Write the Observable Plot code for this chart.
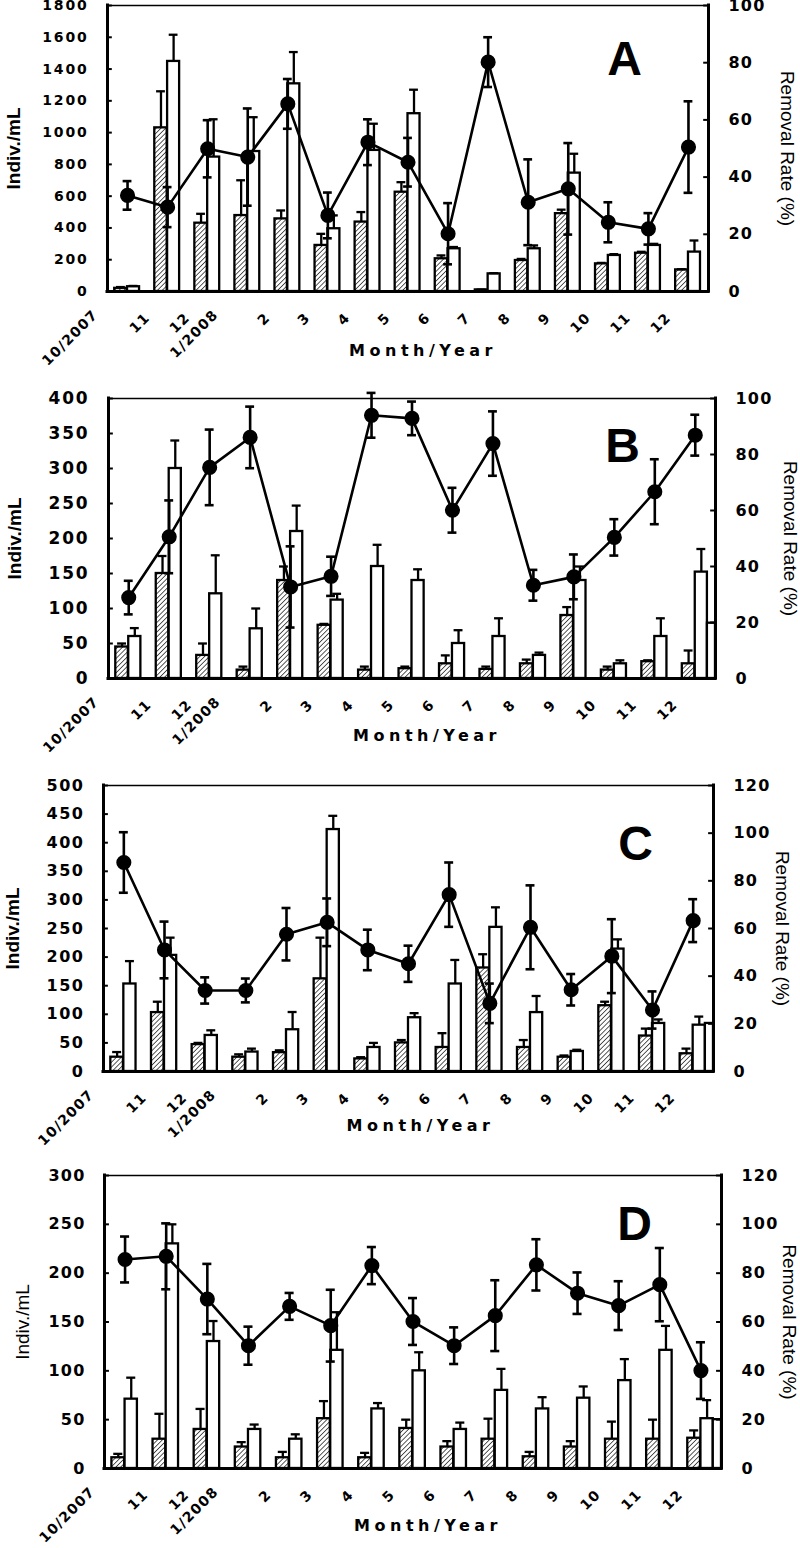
<!DOCTYPE html>
<html><head><meta charset="utf-8">
<script src="https://cdn.jsdelivr.net/npm/d3@7"></script>
<script src="https://cdn.jsdelivr.net/npm/@observablehq/plot@0.6"></script>
<style>
body{margin:0;background:#fff;}
#wrap{position:relative;width:800px;height:1548px;overflow:hidden;background:#fff;}
.panel{position:absolute;left:0;}
</style></head><body>
<svg width="0" height="0" style="position:absolute">
<defs><pattern id="hatch" patternUnits="userSpaceOnUse" width="3.4" height="3.4" patternTransform="rotate(45)">
<rect width="3.4" height="3.4" fill="white"/><line x1="0" y1="0" x2="0" y2="3.4" stroke="black" stroke-width="1.3"/></pattern></defs></svg>
<div id="wrap"></div>
<script>
const monthLabels = ["10/2007","11","12","1/2008","2","3","4","5","6","7","8","9","10","11","12"];

// Panel A
const aLeftTicks = [0,200,400,600,800,1000,1200,1400,1600,1800];
const aRightTicks = [0,20,40,60,80,100];
const aHatched = [20,1030,430,478,457,290,437,625,206,10,195,490,174,241,136];
const aHatchedErr = [28,1260,489,700,510,363,500,688,227,12,205,515,180,250,140];
const aOpen = [30,1448,846,881,1307,395,888,1119,269,111,269,745,227,290,248];
const aOpenErr = [35,1616,1084,1097,1507,479,1056,1270,280,115,290,867,235,300,321];
const aRate = [33.6,29.5,49.9,47,65.6,26.6,52.2,45.2,20.2,80.2,31.2,35.9,24.2,21.9,50.5];
const aRateErr = [5,7,10,17,8.7,8,8,8.5,10.7,8.7,15,16,7,5.5,16];

// Panel B
const bLeftTicks = [0,50,100,150,200,250,300,350,400];
const bRightTicks = [0,20,40,60,80,100];
const bHatched = [45,150,33,12,140,76,12,14,21,13,21,90,12,24,21];
const bHatchedErr = [50,175,50,17,160,78,17,17,33,17,27,102,17,26,40];
const bOpen = [60,300,121,71,210,112,160,140,50,60,33,140,21,60,152];
const bOpenErr = [72,340,176,100,247,121,191,156,69,86,37,160,26,86,185];
const bRate = [28.9,50.6,75.4,86.1,32.7,36.5,94,92.9,60.1,83.9,33.3,36.3,50.4,66.7,86.9];
const bRateErr = [6,13,13.5,11,14.5,7,8,6,8,11.5,5.5,8,6.5,11.6,7.3];
const bExtra = 79;

// Panel C
const cLeftTicks = [0,50,100,150,200,250,300,350,400,450,500];
const cRightTicks = [0,20,40,60,80,100,120];
const cHatched = [25,103,47,25,33,162,22,50,42,181,42,25,115,62,31];
const cHatchedErr = [34,122,50,30,37,234,25,55,67,205,55,28,122,75,40];
const cOpen = [153,203,63,34,73,423,42,94,153,252,103,35,214,84,81];
const cOpenErr = [193,234,72,40,104,447,50,102,195,287,132,38,231,91,96];
const cRate = [87.7,51,34,34,57.6,62.6,51,45.2,74.2,28.6,60.5,34.3,48.4,25.8,63.3];
const cRateErr = [12.7,11.9,5.5,5,11,10,8.5,7.6,13.5,8.3,17.6,6.6,15.5,7.8,9];
const cExtra = 84;

// Panel D
const dLeftTicks = [0,50,100,150,200,250,300];
const dRightTicks = [0,20,40,60,80,100,120];
const dHatched = [11,30,40,22,11,51,11,41,22,30,12,22,30,30,31];
const dHatchedErr = [15,56,61,27,17,69,16,50,28,51,17,28,48,50,39];
const dOpen = [71,230,130,40,30,121,61,100,40,80,61,72,90,121,51];
const dOpenErr = [93,250,151,45,35,160,67,119,47,102,73,84,112,146,70];
const dRate = [85.6,86.9,69.4,50.3,66.4,58.5,83.1,60.2,50.3,62.6,83.4,71.8,66.7,75.3,40.1];
const dRateErr = [9.4,13.5,14.4,7.8,5.5,14.7,7.6,9.6,7.5,14.5,10.5,8.5,10,15,11.6];
const dExtra = 50;

const leftTitle = "Indiv./mL";
const rightTitle = "Removal Rate (%)";
const xTitle = "Month/Year";

const NUM = "DejaVu Sans";
const SANS = "Liberation Sans";

function makePanel(p) {
  const n = monthLabels.length;
  const k = p.yMax / p.rMax;
  const rows = monthLabels.map((m, i) => ({
    i, eff: p.hatched[i], effErr: p.hatchedErr[i], inf: p.open[i], infErr: p.openErr[i],
    rate: p.rate[i] * k, lo: (p.rate[i] - p.rateErr[i]) * k, hi: (p.rate[i] + p.rateErr[i]) * k
  }));
  const hx1 = 0.18, hx2 = 0.49, ox1 = 0.5, ox2 = 0.8, cap = 0.11, sw = 2.3;
  const hc = (hx1 + hx2) / 2, oc = (ox1 + ox2) / 2, lc = 0.5;
  const xlab = {x: (d, i) => i + 0.08, y: 0, text: d => d, rotate: -45, textAnchor: "end", lineAnchor: "bottom", dy: 27, fontSize: 14, fontWeight: "bold", fontFamily: NUM, ariaLabel: () => "xtick"};
  const marks = [
    Plot.rect(rows, {x1: d => d.i + hx1, x2: d => d.i + hx2, y1: 0, y2: "eff", fill: "url(#hatch)", stroke: "black", strokeWidth: sw}),
    Plot.rect(rows, {x1: d => d.i + ox1, x2: d => d.i + ox2, y1: 0, y2: "inf", fill: "white", stroke: "black", strokeWidth: sw}),
    Plot.rect(p.extra != null ? [p.extra] : [], {x1: () => n - 0.2, x2: () => n, y1: 0, y2: d => d, fill: "white", stroke: "black", strokeWidth: sw}),
    Plot.ruleX(rows, {x: d => d.i + hc, y1: "eff", y2: "effErr", strokeWidth: sw}),
    Plot.ruleY(rows, {y: "effErr", x1: d => d.i + hc - cap, x2: d => d.i + hc + cap, strokeWidth: sw}),
    Plot.ruleX(rows, {x: d => d.i + oc, y1: "inf", y2: "infErr", strokeWidth: sw}),
    Plot.ruleY(rows, {y: "infErr", x1: d => d.i + oc - cap, x2: d => d.i + oc + cap, strokeWidth: sw}),
    Plot.line(rows, {x: d => d.i + lc, y: "rate", strokeWidth: 2.6}),
    Plot.ruleX(rows, {x: d => d.i + lc, y1: "lo", y2: "hi", strokeWidth: 2.6}),
    Plot.ruleY(rows, {y: "lo", x1: d => d.i + lc - cap, x2: d => d.i + lc + cap, strokeWidth: 2.6}),
    Plot.ruleY(rows, {y: "hi", x1: d => d.i + lc - cap, x2: d => d.i + lc + cap, strokeWidth: 2.6}),
    Plot.dot(rows, {x: d => d.i + lc, y: "rate", r: 6.8, fill: "black", stroke: "black"}),
    // frame
    Plot.ruleY([p.yMax], {strokeWidth: 1.3}),
    Plot.ruleY([0], {strokeWidth: 3, strokeLinecap: "square"}),
    Plot.ruleX([0, n], {strokeWidth: 3, strokeLinecap: "square"}),
    // ticks
    Plot.ruleY(p.leftTicks, {y: d => d, x1: 0, x2: 0.12, strokeWidth: 2}),
    Plot.ruleY(p.rightTicks, {y: d => d * k, x1: n - 0.12, x2: n, strokeWidth: 2}),
    Plot.text(p.leftTicks, {x: 0, y: d => d, text: d => String(d), textAnchor: "end", dx: -19, fontSize: p.lfs, fontWeight: "bold", fontFamily: NUM, ariaLabel: () => "ltick"}),
    Plot.text(p.rightTicks, {x: n, y: d => d * k, text: d => String(d), textAnchor: "start", dx: 20, fontSize: 16, fontWeight: "bold", fontFamily: NUM, ariaLabel: () => "rtick"}),
    Plot.text(monthLabels, {...xlab, filter: d => d.length <= 3}),
    Plot.text(monthLabels, {...xlab, filter: d => d.length > 3, dx: -12, dy: 24}),
    Plot.text([leftTitle], {frameAnchor: "left", textAnchor: "middle", dx: p.ldx, rotate: -90, text: d => d, fontSize: 19, fontWeight: p.lbold ? "bold" : "normal", fontFamily: SANS}),
    Plot.text([rightTitle], {frameAnchor: "right", textAnchor: "middle", dx: p.rdx, rotate: 90, text: d => d, fontSize: 19, fontFamily: SANS}),
    Plot.text([xTitle], {frameAnchor: "bottom", textAnchor: "middle", dx: p.mdx, dy: p.mdy, text: d => d, fontSize: 16, fontWeight: "bold", fontFamily: NUM, ariaLabel: () => "xtitle"}),
    Plot.text([p.letter], {frameAnchor: "top-right", textAnchor: "middle", dx: p.tdx, dy: p.tdy, lineAnchor: "top", text: d => d, fontSize: 48, fontWeight: "bold", fontFamily: SANS})
  ];
  const svg = Plot.plot({
    width: 800, height: p.height,
    marginTop: p.mt, marginBottom: p.mb, marginLeft: p.ml, marginRight: p.mr,
    x: {domain: [0, n], axis: null},
    y: {domain: [0, p.yMax], axis: null},
    style: {background: "transparent", color: "black", overflow: "visible"},
    marks
  });
  const s = d3.select(svg);
  s.selectAll('text[aria-label="ltick"]').attr("letter-spacing", p.lls);
  s.selectAll('text[aria-label="rtick"]').attr("letter-spacing", 1.2);
  s.selectAll('text[aria-label="xtick"]').attr("letter-spacing", 1.2);
  s.selectAll('text[aria-label="xtitle"]').attr("letter-spacing", 4.5);
  const div = document.createElement("div");
  div.className = "panel";
  div.style.top = p.top + "px";
  div.appendChild(svg);
  document.getElementById("wrap").appendChild(div);
}

makePanel({letter: "A", top: 0, height: 370, mt: 5, mb: 79, ml: 107, mr: 92, yMax: 1800, rMax: 100,
  leftTicks: aLeftTicks, rightTicks: aRightTicks, hatched: aHatched, hatchedErr: aHatchedErr, open: aOpen, openErr: aOpenErr, rate: aRate, rateErr: aRateErr, extra: null,
  lfs: 14, lls: 1.8, ldx: -94, lbold: true, rdx: 79, mdx: 15, mdy: 64, tdx: -84, tdy: 35});
makePanel({letter: "B", top: 370, height: 380, mt: 28, mb: 72, ml: 108, mr: 85, yMax: 400, rMax: 100,
  leftTicks: bLeftTicks, rightTicks: bRightTicks, hatched: bHatched, hatchedErr: bHatchedErr, open: bOpen, openErr: bOpenErr, rate: bRate, rateErr: bRateErr, extra: bExtra,
  lfs: 17, lls: 1.8, ldx: -94, lbold: true, rdx: 75, mdx: 15, mdy: 62, tdx: -93, tdy: 29});
makePanel({letter: "C", top: 750, height: 390, mt: 35, mb: 69, ml: 103, mr: 87, yMax: 500, rMax: 120,
  leftTicks: cLeftTicks, rightTicks: cRightTicks, hatched: cHatched, hatchedErr: cHatchedErr, open: cOpen, openErr: cOpenErr, rate: cRate, rateErr: cRateErr, extra: cExtra,
  lfs: 16, lls: 1.5, ldx: -91, lbold: true, rdx: 69, mdx: 12, mdy: 59, tdx: -78, tdy: 40});
makePanel({letter: "D", top: 1140, height: 408, mt: 35, mb: 80, ml: 104, mr: 79, yMax: 300, rMax: 120,
  leftTicks: dLeftTicks, rightTicks: dRightTicks, hatched: dHatched, hatchedErr: dHatchedErr, open: dOpen, openErr: dOpenErr, rate: dRate, rateErr: dRateErr, extra: dExtra,
  lfs: 16, lls: 1.2, ldx: -82, lbold: false, rdx: 68, mdx: 15, mdy: 62, tdx: -87, tdy: 30});
</script>
</body></html>
